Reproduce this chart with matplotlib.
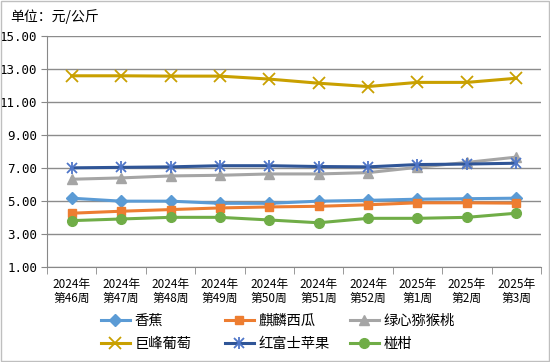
import numpy as np
import matplotlib.pyplot as plt
from matplotlib.patches import Rectangle

plt.rcParams['font.family'] = ['Noto Sans CJK SC', 'DejaVu Sans']

weeks = ['2024年\n第46周', '2024年\n第47周', '2024年\n第48周', '2024年\n第49周', '2024年\n第50周',
         '2024年\n第51周', '2024年\n第52周', '2025年\n第1周', '2025年\n第2周', '2025年\n第3周']

banana = [5.18, 5.0, 5.0, 4.87, 4.87, 5.0, 5.05, 5.12, 5.15, 5.18]
watermelon = [4.27, 4.39, 4.49, 4.59, 4.65, 4.69, 4.78, 4.9, 4.9, 4.88]
kiwi = [6.33, 6.41, 6.53, 6.57, 6.65, 6.65, 6.73, 7.05, 7.35, 7.67]
grape = [12.6, 12.6, 12.58, 12.58, 12.4, 12.15, 11.95, 12.2, 12.2, 12.45]
apple = [7.02, 7.05, 7.08, 7.15, 7.15, 7.1, 7.08, 7.22, 7.25, 7.3]
mandarin = [3.82, 3.92, 4.02, 4.02, 3.86, 3.69, 3.96, 3.96, 4.02, 4.27]

series = [
    ('香蕉', banana, '#5B9BD5', 'D', 6),
    ('麒麟西瓜', watermelon, '#ED7D31', 's', 6),
    ('绿心猕猴桃', kiwi, '#A5A5A5', '^', 7),
    ('巨峰葡萄', grape, '#C9A000', 'x', 8),
    ('红富士苹果', apple, '#2F5597', 'x', 7),
    ('椪柑', mandarin, '#70AD47', 'o', 7),
]

fig = plt.figure(figsize=(5.5, 3.62), dpi=100)
ax = fig.add_axes([0.0855, 0.262, 0.898, 0.638])

x = np.arange(len(weeks))
handles = {}
for name, vals, color, marker, ms in series:
    if name == '红富士苹果':
        # 星形标记: x + 竖线
        l1, = ax.plot(x, vals, color=color, lw=2.2, marker='x', ms=ms, mew=1.3,
                      mec='#4F76C8', zorder=3)
        l2, = ax.plot(x, vals, ls='none', marker='|', ms=ms + 1, mew=1.3,
                      color='#4F76C8', zorder=4)
        handles[name] = (l1, l2)
    elif marker == 'x':
        l1, = ax.plot(x, vals, color=color, lw=2.2, marker=marker, ms=ms, mew=1.3, zorder=3)
        handles[name] = l1
    else:
        l1, = ax.plot(x, vals, color=color, lw=2.2, marker=marker, ms=ms, zorder=3)
        handles[name] = l1

ax.set_ylim(1, 15)
ax.set_yticks(np.arange(1, 16, 2))
ax.set_yticklabels([f'{v:.2f}' for v in np.arange(1, 16, 2)], fontsize=9,
                   family=['DejaVu Sans Mono'])
ax.set_xlim(-0.5, len(weeks) - 0.5)
ax.set_xticks(x)
ax.set_xticklabels(weeks, fontsize=8.5, linespacing=1.1)
ax.set_xticks(np.arange(-0.5, len(weeks), 1), minor=True)
ax.tick_params(axis='x', which='major', length=0, pad=8)
ax.tick_params(axis='x', which='minor', length=5, color='#888888')
ax.tick_params(axis='y', length=4, color='#888888', pad=3)

ax.yaxis.grid(True, color='#8C8C8C', lw=1)
ax.set_axisbelow(True)
for s in ['top', 'right']:
    ax.spines[s].set_visible(False)
ax.spines['left'].set_color('#888888')
ax.spines['bottom'].set_color('#888888')

fig.text(0.018, 0.955, '单位：元/公斤', fontsize=10, va='center', ha='left')

# 图例：三列两行，按行排列
cols = [['香蕉', '巨峰葡萄'], ['麒麟西瓜', '红富士苹果'], ['绿心猕猴桃', '椪柑']]
col_x = [101 / 550, 225 / 550, 350 / 550]
for names, cx in zip(cols, col_x):
    leg = fig.legend([handles[n] for n in names], names, loc='upper left',
                     bbox_to_anchor=(cx, 1 - 314 / 362), frameon=False, fontsize=10.3,
                     handlelength=2.0, handletextpad=0.35, labelspacing=0.62,
                     borderpad=0, borderaxespad=0)

fig.patches.append(Rectangle((0.002, 0.003), 0.996, 0.994, transform=fig.transFigure,
                             fill=False, edgecolor='#BFBFBF', lw=1))

plt.savefig('out.png', dpi=100)
